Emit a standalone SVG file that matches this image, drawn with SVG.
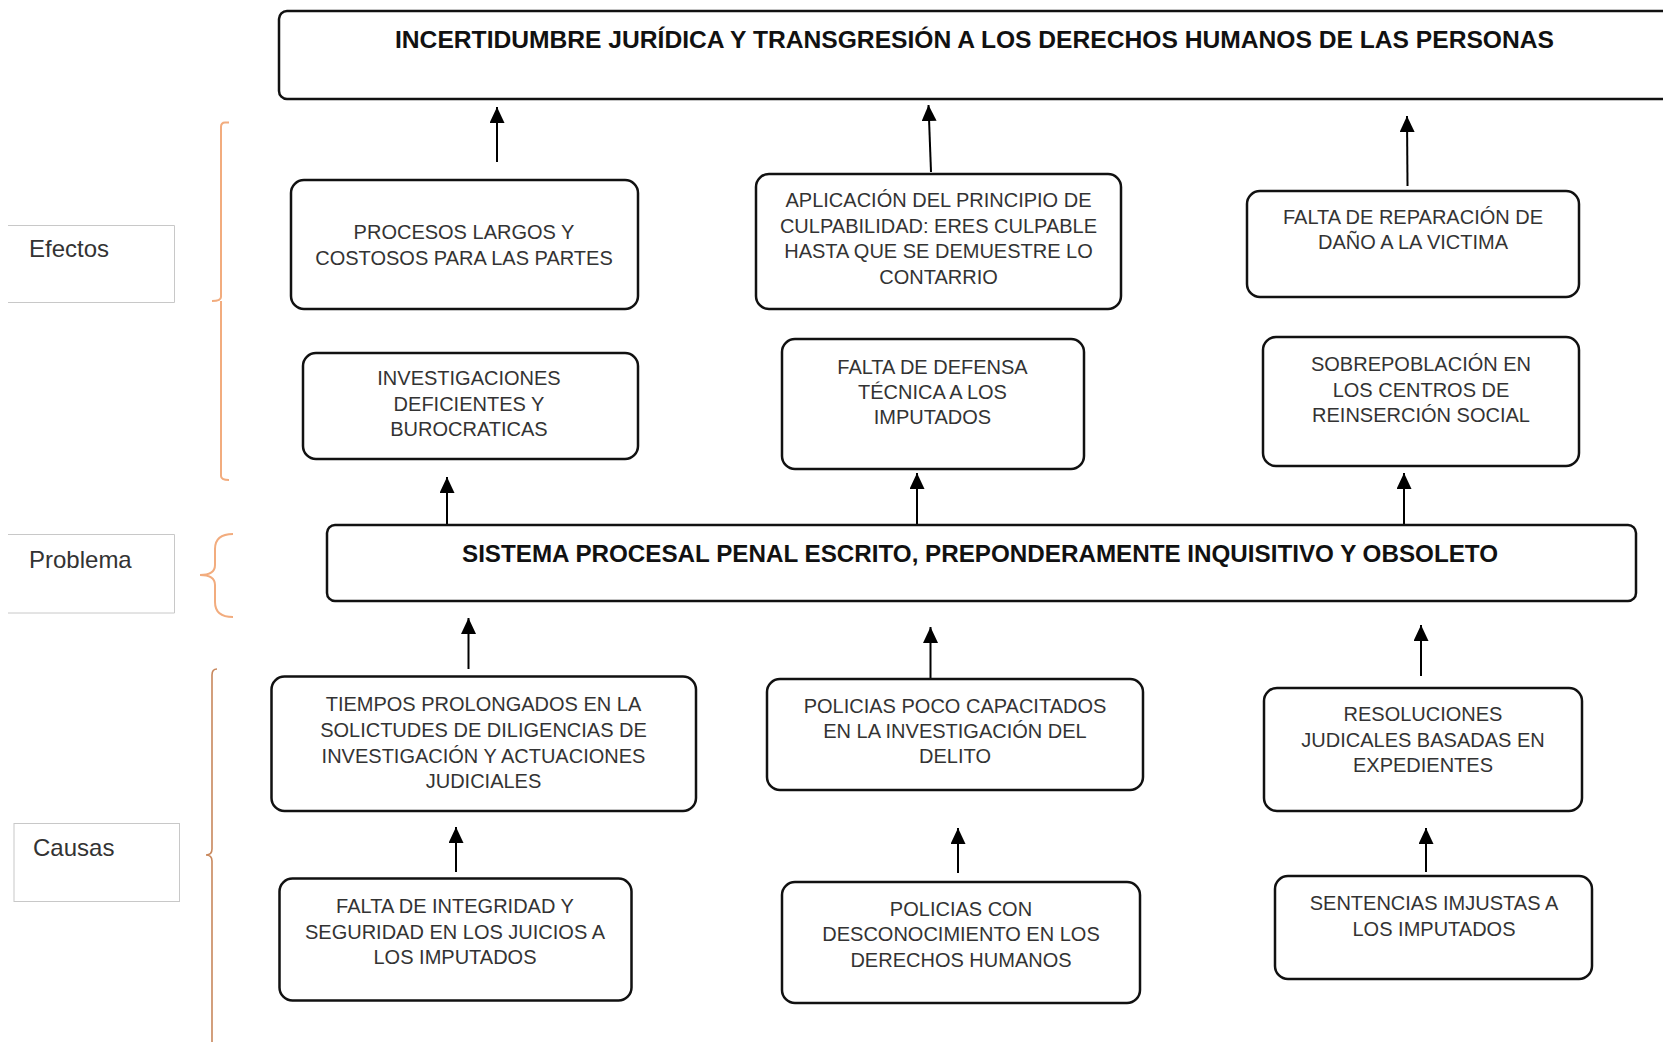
<svg xmlns="http://www.w3.org/2000/svg" width="1663" height="1042" viewBox="0 0 1663 1042">
<style>
.box{fill:#fff;stroke:#111;stroke-width:2.5}
.t{font-family:"Liberation Sans",Arial,sans-serif;font-size:20px;fill:#333;text-anchor:middle}
.title{font-family:"Liberation Sans",Arial,sans-serif;font-size:24px;font-weight:bold;fill:#111;text-anchor:middle}
.lab{fill:#fff;stroke:#c8c8c8;stroke-width:1}
.labt{font-family:"Liberation Sans",Arial,sans-serif;font-size:24px;fill:#333}
.arr{stroke:#000;stroke-width:2;fill:none;marker-end:url(#ah)}
.br{fill:none;stroke:#f2ac7e;stroke-width:2}
</style>
<defs>
<marker id="ah" markerUnits="userSpaceOnUse" markerWidth="16" markerHeight="15" refX="16" refY="7.5" orient="auto">
<path d="M0,0 L16,7.5 L0,15 Z" fill="#000"/>
</marker>
</defs>
<rect width="1663" height="1042" fill="#fff"/>

<g id="labels">
<g id="lab-efectos"><path class="lab" d="M8,225.5 H174.5 V302.5 H8"/><text class="labt" x="29" y="257">Efectos</text></g>
<g id="lab-problema"><path class="lab" d="M8,534.5 H174.5 V613 H8"/><text class="labt" x="29" y="568">Problema</text></g>
<g id="lab-causas"><rect class="lab" x="14" y="823.5" width="165.5" height="78"/><text class="labt" x="33" y="856">Causas</text></g>
</g>

<g id="braces">
<path class="br" d="M229,122.5 L225,122.5 Q221,122.5 221,127 L221,297 Q221,301 212,301 M221,301 L221,476 Q221,480 229,480"/>
<path class="br" d="M233,534 Q215,534 215,549 L215,565 Q215,575 200,575 Q215,575 215,585 L215,602 Q215,617 233,617"/>
<path class="br" style="stroke:#c8875c;stroke-width:1.6" d="M217,669 Q212,669 212,675 L212,849 Q212,855 206,855 Q212,855 212,861 L212,1050"/>
</g>

<g id="connectors">
<line class="arr" x1="497" y1="162" x2="497" y2="107"/>
<line class="arr" x1="931" y1="172" x2="928.5" y2="105"/>
<line class="arr" x1="1407.5" y1="186" x2="1407" y2="116"/>
<line class="arr" x1="447" y1="524" x2="447" y2="477"/>
<line class="arr" x1="917" y1="524" x2="917" y2="473"/>
<line class="arr" x1="1404" y1="524" x2="1404" y2="473"/>
<line class="arr" x1="468.5" y1="669" x2="468.5" y2="618"/>
<line class="arr" x1="930.5" y1="678" x2="930.5" y2="627"/>
<line class="arr" x1="1421" y1="676" x2="1421" y2="625"/>
<line class="arr" x1="456" y1="872" x2="456" y2="827"/>
<line class="arr" x1="958" y1="873" x2="958" y2="828"/>
<line class="arr" x1="1426" y1="872" x2="1426" y2="828"/>
</g>

<g id="n-top"><rect class="box" x="279" y="11" width="1420" height="88" rx="8"/>
<text class="title" x="974.5" y="48" textLength="1159" lengthAdjust="spacingAndGlyphs">INCERTIDUMBRE JURÍDICA Y TRANSGRESIÓN A LOS DERECHOS HUMANOS DE LAS PERSONAS</text></g>

<g id="n-procesos"><rect class="box" x="291" y="180" width="347" height="129" rx="13"/>
<text class="t" x="464" y="239">PROCESOS LARGOS Y</text><text class="t" x="464" y="265">COSTOSOS PARA LAS PARTES</text></g>

<g id="n-aplicacion"><rect class="box" x="756" y="174" width="365" height="135" rx="13"/>
<text class="t" x="938.5" y="207">APLICACIÓN DEL PRINCIPIO DE</text><text class="t" x="938.5" y="233">CULPABILIDAD: ERES CULPABLE</text><text class="t" x="938.5" y="258">HASTA QUE SE DEMUESTRE LO</text><text class="t" x="938.5" y="284">CONTARRIO</text></g>

<g id="n-reparacion"><rect class="box" x="1247" y="191" width="332" height="106" rx="13"/>
<text class="t" x="1413" y="224">FALTA DE REPARACIÓN DE</text><text class="t" x="1413" y="249">DAÑO A LA VICTIMA</text></g>

<g id="n-investigaciones"><rect class="box" x="303" y="353" width="335" height="106" rx="13"/>
<text class="t" x="469" y="385">INVESTIGACIONES</text><text class="t" x="469" y="411">DEFICIENTES Y</text><text class="t" x="469" y="436">BUROCRATICAS</text></g>

<g id="n-defensa"><rect class="box" x="782" y="339" width="302" height="130" rx="13"/>
<text class="t" x="932.5" y="374">FALTA DE DEFENSA</text><text class="t" x="932.5" y="399">TÉCNICA A LOS</text><text class="t" x="932.5" y="424">IMPUTADOS</text></g>

<g id="n-sobrepoblacion"><rect class="box" x="1263" y="337" width="316" height="129" rx="13"/>
<text class="t" x="1421" y="371">SOBREPOBLACIÓN EN</text><text class="t" x="1421" y="397">LOS CENTROS DE</text><text class="t" x="1421" y="422">REINSERCIÓN SOCIAL</text></g>

<g id="n-sistema"><rect class="box" x="327" y="525" width="1309" height="76" rx="8"/>
<text class="title" x="980" y="562" textLength="1036" lengthAdjust="spacingAndGlyphs">SISTEMA PROCESAL PENAL ESCRITO, PREPONDERAMENTE INQUISITIVO Y OBSOLETO</text></g>

<g id="n-tiempos"><rect class="box" x="271.5" y="676.5" width="424.5" height="134.5" rx="13"/>
<text class="t" x="483.5" y="711">TIEMPOS PROLONGADOS EN LA</text><text class="t" x="483.5" y="737">SOLICTUDES DE DILIGENCIAS DE</text><text class="t" x="483.5" y="763">INVESTIGACIÓN Y ACTUACIONES</text><text class="t" x="483.5" y="788">JUDICIALES</text></g>

<g id="n-policias-poco"><rect class="box" x="767" y="679" width="376" height="111" rx="13"/>
<text class="t" x="955" y="713">POLICIAS POCO CAPACITADOS</text><text class="t" x="955" y="738">EN LA INVESTIGACIÓN DEL</text><text class="t" x="955" y="763">DELITO</text></g>

<g id="n-resoluciones"><rect class="box" x="1264" y="688" width="318" height="123" rx="13"/>
<text class="t" x="1423" y="721">RESOLUCIONES</text><text class="t" x="1423" y="747">JUDICALES BASADAS EN</text><text class="t" x="1423" y="772">EXPEDIENTES</text></g>

<g id="n-integridad"><rect class="box" x="279.5" y="878.5" width="352" height="122" rx="13"/>
<text class="t" x="455" y="913">FALTA DE INTEGRIDAD Y</text><text class="t" x="455" y="939">SEGURIDAD EN LOS JUICIOS A</text><text class="t" x="455" y="964">LOS IMPUTADOS</text></g>

<g id="n-policias-con"><rect class="box" x="782" y="882" width="358" height="121" rx="13"/>
<text class="t" x="961" y="916">POLICIAS CON</text><text class="t" x="961" y="941">DESCONOCIMIENTO EN LOS</text><text class="t" x="961" y="967">DERECHOS HUMANOS</text></g>

<g id="n-sentencias"><rect class="box" x="1275" y="876" width="317" height="103" rx="13"/>
<text class="t" x="1434" y="910">SENTENCIAS IMJUSTAS A</text><text class="t" x="1434" y="936">LOS IMPUTADOS</text></g>
</svg>
